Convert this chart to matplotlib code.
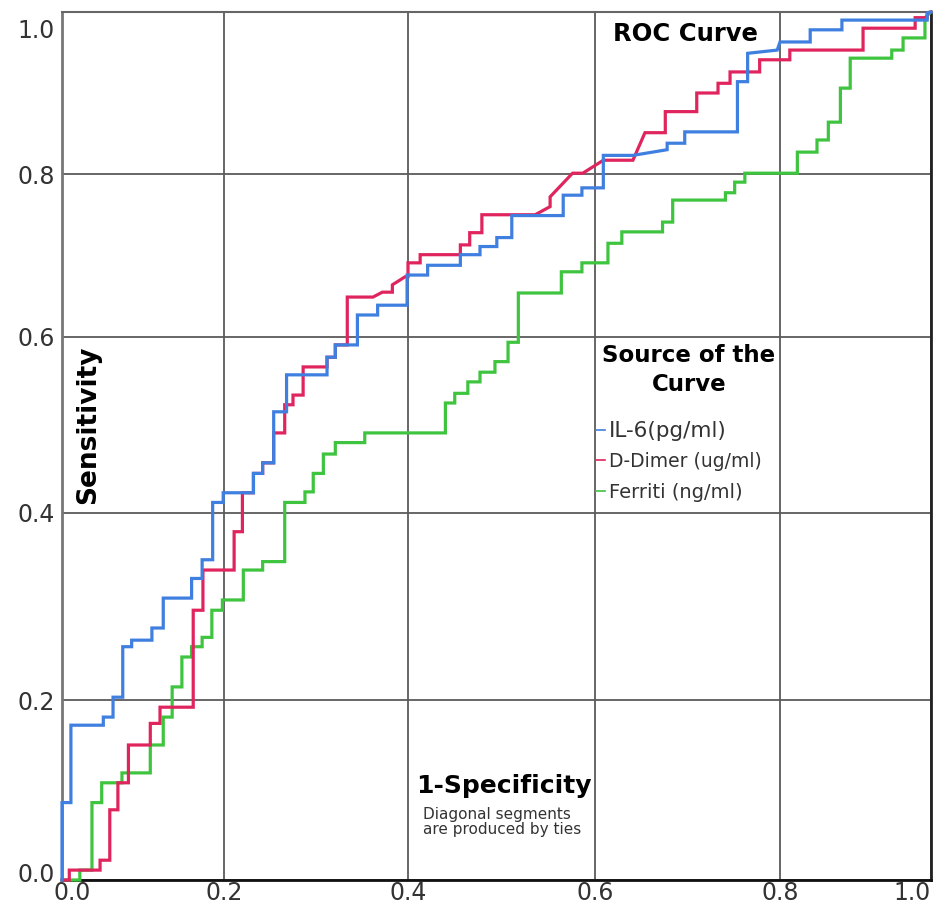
import numpy as np
import matplotlib.pyplot as plt
import matplotlib.transforms as mtransforms
from matplotlib.lines import Line2D

# ROC vertices (1-specificity, sensitivity)
il6_points = [
    (0, 0), (0, 0.086), (0.011, 0.086), (0.011, 0.172), (0.051, 0.172), (0.051, 0.181),
    (0.063, 0.181), (0.063, 0.203), (0.075, 0.203), (0.075, 0.257), (0.086, 0.257),
    (0.086, 0.264), (0.111, 0.264), (0.111, 0.277), (0.125, 0.277), (0.125, 0.309),
    (0.160, 0.309), (0.160, 0.330), (0.173, 0.330), (0.173, 0.350), (0.186, 0.350),
    (0.186, 0.412), (0.199, 0.412), (0.199, 0.423), (0.232, 0.423), (0.232, 0.445),
    (0.242, 0.445), (0.242, 0.457), (0.254, 0.457), (0.254, 0.515), (0.268, 0.515),
    (0.268, 0.557), (0.312, 0.557), (0.312, 0.577), (0.321, 0.577), (0.321, 0.591),
    (0.345, 0.591), (0.345, 0.627), (0.367, 0.627), (0.367, 0.639), (0.399, 0.639),
    (0.399, 0.676), (0.421, 0.676), (0.421, 0.688), (0.456, 0.688), (0.456, 0.701),
    (0.477, 0.701), (0.477, 0.711), (0.495, 0.711), (0.495, 0.722), (0.511, 0.722),
    (0.511, 0.749), (0.566, 0.749), (0.566, 0.774), (0.586, 0.774), (0.586, 0.783),
    (0.609, 0.783), (0.609, 0.823), (0.641, 0.823), (0.678, 0.830), (0.678, 0.838),
    (0.697, 0.838), (0.697, 0.852), (0.754, 0.852), (0.754, 0.914), (0.765, 0.914),
    (0.765, 0.949), (0.797, 0.953), (0.800, 0.963), (0.840, 0.963), (0.840, 0.978),
    (0.882, 0.978), (0.882, 0.990), (0.995, 0.990), (0.995, 0.999), (1.0, 1.0)]

ddimer_points = [
    (0, 0), (0.009, 0), (0.009, 0.011), (0.047, 0.011), (0.047, 0.022), (0.059, 0.022),
    (0.059, 0.078), (0.069, 0.078), (0.069, 0.108), (0.082, 0.108), (0.082, 0.150),
    (0.109, 0.150), (0.109, 0.174), (0.121, 0.174), (0.121, 0.192), (0.162, 0.192),
    (0.162, 0.296), (0.174, 0.296), (0.174, 0.339), (0.211, 0.339), (0.211, 0.380),
    (0.220, 0.380), (0.220, 0.423), (0.232, 0.423), (0.232, 0.445), (0.242, 0.445),
    (0.242, 0.457), (0.254, 0.457), (0.254, 0.491), (0.266, 0.491), (0.266, 0.523),
    (0.275, 0.523), (0.275, 0.534), (0.286, 0.534), (0.286, 0.566), (0.312, 0.566),
    (0.312, 0.577), (0.321, 0.577), (0.321, 0.591), (0.334, 0.591), (0.334, 0.649),
    (0.362, 0.649), (0.372, 0.655), (0.383, 0.655), (0.383, 0.664), (0.397, 0.674),
    (0.400, 0.674), (0.400, 0.691), (0.413, 0.691), (0.413, 0.701), (0.456, 0.701),
    (0.456, 0.713), (0.466, 0.713), (0.466, 0.728), (0.479, 0.728), (0.479, 0.750),
    (0.536, 0.750), (0.552, 0.760), (0.552, 0.772), (0.576, 0.801), (0.587, 0.801),
    (0.609, 0.817), (0.641, 0.817), (0.654, 0.851), (0.676, 0.851), (0.676, 0.877),
    (0.710, 0.877), (0.710, 0.900), (0.733, 0.900), (0.733, 0.912), (0.746, 0.912),
    (0.746, 0.926), (0.778, 0.926), (0.778, 0.941), (0.813, 0.941), (0.813, 0.953),
    (0.910, 0.953), (0.910, 0.980), (0.979, 0.980), (0.979, 0.993), (0.995, 0.993),
    (0.995, 0.999), (1.0, 1.0)]

ferritin_points = [
    (0, 0), (0.022, 0), (0.022, 0.011), (0.037, 0.011), (0.037, 0.086), (0.049, 0.086),
    (0.049, 0.108), (0.074, 0.108), (0.074, 0.119), (0.109, 0.119), (0.109, 0.150),
    (0.125, 0.150), (0.125, 0.181), (0.136, 0.181), (0.136, 0.214), (0.148, 0.214),
    (0.148, 0.246), (0.160, 0.246), (0.160, 0.257), (0.173, 0.257), (0.173, 0.267),
    (0.185, 0.267), (0.185, 0.296), (0.198, 0.296), (0.198, 0.307), (0.221, 0.307),
    (0.221, 0.339), (0.242, 0.339), (0.242, 0.348), (0.266, 0.348), (0.266, 0.412),
    (0.288, 0.412), (0.288, 0.424), (0.297, 0.424), (0.297, 0.445), (0.308, 0.445),
    (0.308, 0.467), (0.321, 0.467), (0.321, 0.480), (0.353, 0.480), (0.353, 0.491),
    (0.440, 0.491), (0.440, 0.525), (0.450, 0.525), (0.450, 0.536), (0.464, 0.536),
    (0.464, 0.549), (0.477, 0.549), (0.477, 0.560), (0.493, 0.560), (0.493, 0.572),
    (0.507, 0.572), (0.507, 0.594), (0.518, 0.594), (0.518, 0.654), (0.564, 0.654),
    (0.564, 0.680), (0.586, 0.680), (0.586, 0.691), (0.614, 0.691), (0.614, 0.715),
    (0.629, 0.715), (0.629, 0.729), (0.673, 0.729), (0.673, 0.741), (0.684, 0.741),
    (0.684, 0.768), (0.741, 0.768), (0.741, 0.777), (0.751, 0.777), (0.751, 0.790),
    (0.762, 0.790), (0.762, 0.801), (0.823, 0.801), (0.823, 0.827), (0.849, 0.827),
    (0.849, 0.842), (0.864, 0.842), (0.864, 0.864), (0.880, 0.864), (0.880, 0.906),
    (0.893, 0.906), (0.893, 0.943), (0.948, 0.943), (0.948, 0.953), (0.963, 0.953),
    (0.963, 0.968), (0.992, 0.968), (0.992, 0.993), (1.0, 1.0)]

series_names = ["IL-6(pg/ml)", "D-Dimer (ug/ml)", "Ferriti (ng/ml)"]
series_colors = ["#3f7fe0", "#e0245e", "#3ec43e"]
ticks = [0.0, 0.2, 0.4, 0.6, 0.8, 1.0]

# the source image has uneven grid spacing -> piecewise linear scales
x_knots = [-1, 0, 0.2, 0.4, 0.6, 0.8, 1.0, 2]
x_map = [-748, 62, 224, 408, 595, 780, 931, 1686]
y_knots = [-1, 0, 0.2, 0.4, 0.6, 0.8, 1.0, 2]
y_map = [-900, 0, 180, 367, 543, 706, 868, 1680]


def fx(v):
    return np.interp(v, x_knots, x_map)


def fx_inv(v):
    return np.interp(v, x_map, x_knots)


def fy(v):
    return np.interp(v, y_knots, y_map)


def fy_inv(v):
    return np.interp(v, y_map, y_knots)


W, H = 940, 910
fig = plt.figure(figsize=(W / 100, H / 100), dpi=100)
ax = fig.add_axes([62 / W, 30 / H, 869 / W, 868 / H])
ax.set_xscale('function', functions=(fx, fx_inv))
ax.set_yscale('function', functions=(fy, fy_inv))

curves = [il6_points, ddimer_points, ferritin_points]
for pts, col in zip(curves[::-1], series_colors[::-1]):
    fpr, tpr = zip(*pts)
    ax.plot(fpr, tpr, color=col, lw=2.3, solid_joinstyle='miter', zorder=3, clip_on=False)

ax.set_xlim(0, 1)
ax.set_ylim(0, 1)
ax.set_xticks(ticks)
ax.set_yticks(ticks)
ax.set_xticklabels([f"{t:.1f}" for t in ticks])
ax.set_yticklabels([f"{t:.1f}" for t in ticks])
ax.tick_params(length=0, labelsize=17, labelcolor="#333333")
ax.tick_params(axis="x", pad=1)
ax.tick_params(axis="y", pad=5)
ax.grid(True, color="#5a5a5a", lw=1.3, zorder=1)

for side, col, lw in [("left", "#777777", 2.0), ("bottom", "#111111", 2.0),
                      ("right", "#222222", 2.0), ("top", "#666666", 1.5)]:
    ax.spines[side].set_color(col)
    ax.spines[side].set_linewidth(lw)


# nudge the end tick labels like in the original
def shift(lbl, dx, dy):
    off = mtransforms.ScaledTranslation(dx / 100, dy / 100, fig.dpi_scale_trans)
    lbl.set_transform(lbl.get_transform() + off)


xl = ax.get_xticklabels()
yl = ax.get_yticklabels()
shift(xl[0], 10, 0)
shift(xl[-1], -19, 0)
shift(yl[0], 0, 8)
shift(yl[-1], 0, -17)


def ftext(x, y, s, **kw):
    fig.text(x / W, 1 - y / H, s, **kw)


ftext(685, 34, "ROC Curve", fontsize=17.5, fontweight="bold", ha="center", va="center")
ftext(689, 370, "Source of the\nCurve", fontsize=16.5, fontweight="bold", ha="center",
      va="center", linespacing=1.3)
ftext(88, 425, "Sensitivity", fontsize=19, fontweight="bold", rotation=90,
      ha="center", va="center")
ftext(504, 786, "1-Specificity", fontsize=18, fontweight="bold", ha="center", va="center")
ftext(423, 822, "Diagonal segments\nare produced by ties", fontsize=11, color="#333333",
      ha="left", va="center", linespacing=1.05)

handles = [Line2D([], [], color=c, lw=1.2) for c in series_colors]
leg = ax.legend(handles, series_names, loc="upper left", frameon=False,
                bbox_to_anchor=((596 - 62) / 869, (880 - 421) / 868),
                handlelength=0.45, handletextpad=0.2, borderpad=0, borderaxespad=0,
                labelspacing=0.58, fontsize=14)
sizes = [15.5, 13.5, 14]
for t, s in zip(leg.get_texts(), sizes):
    t.set_fontsize(s)
    t.set_color("#333333")

fig.savefig("out.png", dpi=100)
